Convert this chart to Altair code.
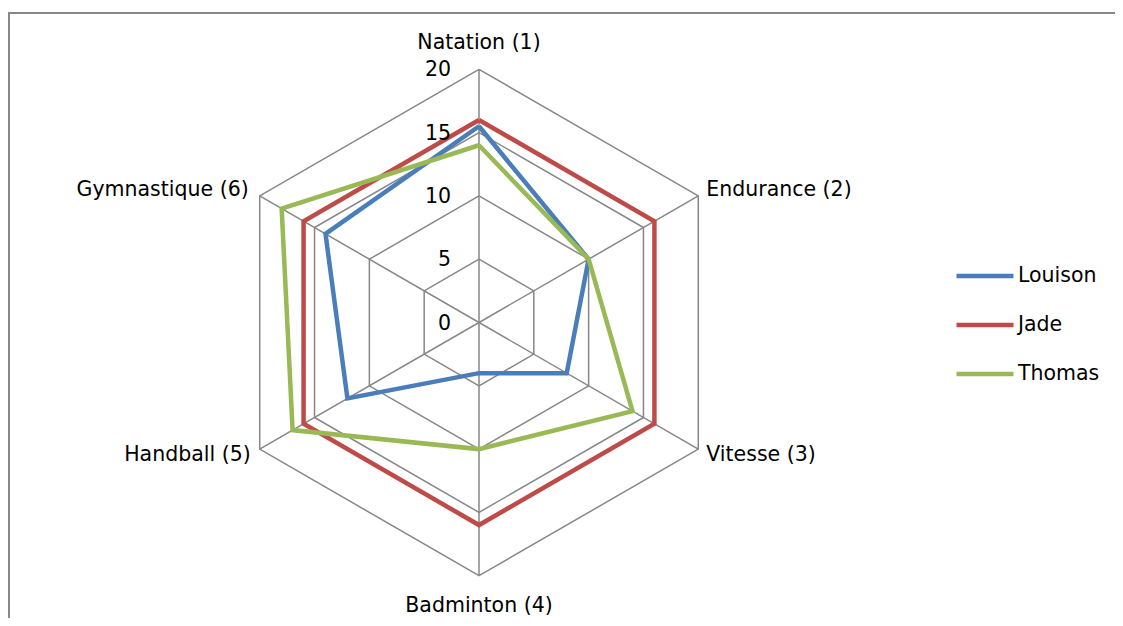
import altair as alt
import pandas as pd

sports = ["Natation (1)", "Endurance (2)", "Vitesse (3)", "Badminton (4)", "Handball (5)", "Gymnastique (6)"]
names = ["Louison", "Jade", "Thomas"]
louison = [15.5, 10, 8, 4, 12, 14]
jade = [16, 16, 16, 16, 16, 16]
thomas = [14, 10, 14, 10, 17, 18]
ring_ticks = [5, 10, 15, 20]
tick_labels = [0, 5, 10, 15, 20]
colors = ["#4A7EBB", "#BE4B48", "#98B954"]
max_val = 20

W, H = 1107, 605
PX = 12.66
XMIN = -471 / PX
XMAX = XMIN + W / PX
YMAX = 309.5 / PX
YMIN = YMAX - H / PX

rows = []
for nm, vals in zip(names, [louison, jade, thomas]):
    for i in range(len(sports) + 1):
        k = i % len(sports)
        rows.append({"name": nm, "sport": sports[k], "idx": i, "value": vals[k]})
series_df = pd.DataFrame(rows)

ring_rows = []
for r in ring_ticks:
    for i in range(len(sports) + 1):
        ring_rows.append({"ring": r, "idx": i, "value": r})
ring_df = pd.DataFrame(ring_rows)

spoke_df = pd.DataFrame({"idx": list(range(len(sports))), "value": [max_val] * len(sports)})
label_df = pd.DataFrame({"idx": list(range(len(sports))), "sport": sports, "value": [max_val] * len(sports)})
tick_df = pd.DataFrame({"value": tick_labels, "label": [str(t) for t in tick_labels]})

xs = alt.Scale(domain=[XMIN, XMAX], nice=False, zero=False)
ys = alt.Scale(domain=[YMIN, YMAX], nice=False, zero=False)

def polar(ch):
    return ch.transform_calculate(
        ang="datum.idx * PI / 3",
    ).transform_calculate(
        px="datum.value * sin(datum.ang)",
        py="datum.value * cos(datum.ang)",
        zx="0",
        zy="0",
    )

X = alt.X("px:Q", scale=xs, axis=None)
Y = alt.Y("py:Q", scale=ys, axis=None)

grid_color = "#878787"
FONT = "DejaVu Sans"
FS = 20.5

rings = polar(alt.Chart(ring_df)).mark_line(color=grid_color, strokeWidth=1.5).encode(
    x=X, y=Y, detail="ring:N", order="idx:Q"
)
spokes = polar(alt.Chart(spoke_df)).mark_rule(color=grid_color, strokeWidth=1.5).encode(
    x=alt.X("zx:Q", scale=xs, axis=None), y=alt.Y("zy:Q", scale=ys, axis=None),
    x2="px:Q", y2="py:Q"
)

series = polar(alt.Chart(series_df)).mark_line(strokeWidth=4.5, strokeJoin="miter").encode(
    x=X, y=Y, order="idx:Q",
    color=alt.Color("name:N", scale=alt.Scale(domain=names, range=colors),
                    sort=names,
                    legend=alt.Legend(title=None, orient="none", legendX=946, legendY=232,
                                      symbolType="stroke", symbolSize=3249,
                                      symbolStrokeWidth=4.5, labelFontSize=FS,
                                      labelFont=FONT, labelColor="#000000",
                                      labelOffset=2, rowPadding=7, padding=0)),
)


def lab(filt, align, baseline, dx, dy):
    return polar(alt.Chart(label_df)).transform_filter(filt).mark_text(
        align=align, baseline=baseline, dx=dx, dy=dy, font=FONT, fontSize=FS, color="#000000"
    ).encode(x=X, y=Y, text="sport:N")

labels = alt.layer(
    lab("datum.idx == 0", "center", "alphabetic", 0, -20),
    lab("datum.idx == 1", "left", "middle", 8, -6),
    lab("datum.idx == 2", "left", "middle", 8, 6),
    lab("datum.idx == 3", "center", "alphabetic", 0, 36),
    lab("datum.idx == 4", "right", "middle", -9, 6),
    lab("datum.idx == 5", "right", "middle", -11, -6),
)

ticks = alt.Chart(tick_df).transform_calculate(zx="0").mark_text(
    align="right", baseline="middle", dx=-28, dy=1, font=FONT, fontSize=FS, color="#000000"
).encode(x=alt.X("zx:Q", scale=xs, axis=None), y=alt.Y("value:Q", scale=ys, axis=None), text="label:N")

border_top = alt.Chart(tick_df).mark_rule(color=grid_color, strokeWidth=2).encode(
    x=alt.value(0), x2=alt.value(W), y=alt.value(0)
)
border_left = alt.Chart(tick_df).mark_rule(color=grid_color, strokeWidth=2).encode(
    x=alt.value(0.5), y=alt.value(0), y2=alt.value(H)
)

chart = alt.layer(border_top, border_left, rings, spokes, series, labels, ticks).properties(
    width=W, height=H,
    autosize=alt.AutoSizeParams(type="none"),
    padding={"left": 0, "top": 5, "right": 0, "bottom": 0},
).configure_view(stroke=None).configure(background="white")

chart.save("out.html", embed_options={"renderer": "svg", "actions": False})
